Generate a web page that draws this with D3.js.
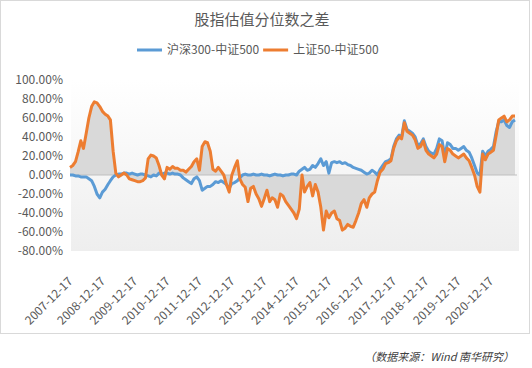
<!DOCTYPE html>
<html>
<head>
<meta charset="utf-8">
<script src="https://cdn.jsdelivr.net/npm/d3@7"></script>
<style>
  body { margin: 0; background: #fff; }
  text { font-family: "Noto Sans CJK SC", "Microsoft YaHei", sans-serif; }
</style>
</head>
<body>
<div id="here"></div>
<script>
var w = 532, h = 368;

var title = "股指估值分位数之差";
var seriesNames = ["沪深300-中证500", "上证50-中证500"];
var seriesColors = ["#5b9bd5", "#ed7d31"];
var firstDate = "2007-12-17";   // monthly observations from here on

// 沪深300-中证500 (%), monthly
var hs300Diff = [
  0, 0, -1, -1, -2, -2, -2, -4, -6, -12, -20, -24,
  -18, -15, -10, -6, -2, 0, 1, 1, 2, 2, 1, 2,
  1, 0, 1, 1, 0, -1, -2, 0, -1, 2, 1, 2,
  2, 1, 2, 1, 1, 0, -3, -5, -7, -9, -4, -2,
  -6, -16, -14, -12, -12, -10, -7, -8, -6, -8, -10, -14,
  -9, -8, -6, -3, 0, 1, 0, 0, 1, 0, 0, 1,
  0, 0, -1, 0, 1, 0, 0, -1, 0, 0, 1, 1,
  0, 4, 6, 8, 5, 6, 10, 8, 12, 17, 10, 14,
  2, 13, 14, 13, 14, 12, 13, 11, 10, 8, 7, 6,
  5, 3, 1, 2, 5, 3, 0, 6, 10, 14, 15, 17,
  30, 38, 42, 40, 57, 48, 46, 44, 40, 31, 33, 38,
  30, 25, 23, 22, 28, 38, 36, 20, 34, 32, 28, 28,
  26, 28, 30, 26, 24, 18, 10, 2, 0, 25, 20, 25,
  27, 30, 46, 56, 56, 58, 52, 50, 56, 58
];

// 上证50-中证500 (%), monthly
var sz50Diff = [
  8, 10, 14, 24, 36, 28, 44, 60, 72, 77, 76, 72,
  67, 64, 62, 58, 25, 2, -2, 0, 2, 0, -4, -5,
  -6, -7, -7, -6, -3, 17, 21, 20, 18, 10, 0, -4,
  8, 6, 9, 7, 7, 5, 5, 3, 6, 9, 14, 17,
  5, 30, 35, 34, 25, 6, 4, 8, 4, 0, -10, -18,
  0, 8, 15, -4, -10, -13, -28, -14, -12, -20, -25, -33,
  -25, -16, -28, -24, -26, -34, -20, -22, -28, -32, -36, -40,
  -46, -36, 0, -18, -12, -8, -22, -10, -18, -34, -58, -38,
  -45, -40, -38, -46, -48, -58, -56, -52, -54, -55, -48, -40,
  -30, -26, -34, -24, -20, -18, -6, 3, 6, 12, 13, 15,
  28, 36, 40, 38, 55, 46, 44, 42, 37, 28, 30, 36,
  26, 22, 20, 18, 22, 32, 30, 14, 28, 26, 22, 20,
  18, 20, 22, 18, 15, 8, 0, -12, -18, 22, 16, 22,
  24, 26, 42, 58, 60, 62, 56, 58, 62, 62
];

var yTicks = [-80, -60, -40, -20, 0, 20, 40, 60, 80, 100];
var xTickLabels = ["2007-12-17", "2008-12-17", "2009-12-17", "2010-12-17", "2011-12-17",
  "2012-12-17", "2013-12-17", "2014-12-17", "2015-12-17", "2016-12-17",
  "2017-12-17", "2018-12-17", "2019-12-17", "2020-12-17"];
var source = "（数据来源：Wind 南华研究）";

var parse = d3.timeParse("%Y-%m-%d");
var start = parse(firstDate);
var dates = hs300Diff.map(function(d, i) { return d3.timeMonth.offset(start, i); });

var plot = {left: 71, right: 519, top: 80, bottom: 251};

var x = d3.scaleTime()
  .domain([start, dates[dates.length - 1]])
  .range([70, 515]);
var y = d3.scaleLinear().domain([-80, 100]).range([plot.bottom, plot.top]);

var fmt = d3.formatLocale({decimal: ".", thousands: ",", grouping: [3], currency: ["", ""], minus: "-"}).format(".2%");

var svg = d3.select("#here").append("svg")
  .attr("width", w)
  .attr("height", h);

svg.append("rect").attr("width", w).attr("height", h).attr("fill", "#fff");
svg.append("rect")
  .attr("x", 0.5).attr("y", 0.5)
  .attr("width", 529).attr("height", 333)
  .attr("fill", "none").attr("stroke", "#d9d9d9");

var grad = svg.append("defs").append("linearGradient")
  .attr("id", "bg").attr("x1", 0).attr("y1", 0).attr("x2", 0).attr("y2", 1);
grad.append("stop").attr("offset", "0%").attr("stop-color", "#ffffff");
grad.append("stop").attr("offset", "100%").attr("stop-color", "#eeeeee");

svg.append("rect")
  .attr("x", plot.left).attr("y", plot.top)
  .attr("width", plot.right - plot.left).attr("height", plot.bottom - plot.top)
  .attr("fill", "url(#bg)");

svg.append("text")
  .attr("x", 262).attr("y", 25)
  .attr("text-anchor", "middle")
  .attr("fill", "#595959")
  .style("font-size", "15px")
  .text(title);

// legend
var lx = 137;
seriesNames.forEach(function(name, i) {
  svg.append("line")
    .attr("x1", lx).attr("x2", lx + 25).attr("y1", 50).attr("y2", 50)
    .attr("stroke", seriesColors[i]).attr("stroke-width", 3);
  var t = svg.append("text")
    .attr("x", lx + 30).attr("y", 54)
    .attr("fill", "#595959")
    .style("font-size", "12px")
    .text(name);
  lx += 30 + t.node().getComputedTextLength() + 4;
});

// grey area under 上证50-中证500
var area = d3.area()
  .x(function(d, i) { return x(dates[i]); })
  .y0(y(0))
  .y1(function(d) { return y(d); });
svg.append("path")
  .attr("d", area(sz50Diff))
  .attr("fill", "#d9d9d9");

svg.append("line")
  .attr("x1", plot.left - 1).attr("x2", plot.right - 2)
  .attr("y1", y(0)).attr("y2", y(0))
  .attr("stroke", "#bfbfbf").attr("stroke-width", 1);

var line = d3.line()
  .x(function(d, i) { return x(dates[i]); })
  .y(function(d) { return y(d); });

[hs300Diff, sz50Diff].forEach(function(s, i) {
  svg.append("path")
    .attr("d", line(s))
    .attr("fill", "none")
    .attr("stroke", seriesColors[i])
    .attr("stroke-width", 3)
    .attr("stroke-linejoin", "round");
});

// y axis
var yAxis = svg.append("g")
  .attr("transform", "translate(63,0)")
  .call(d3.axisLeft(y).tickValues(yTicks).tickSize(0).tickPadding(0)
    .tickFormat(function(d) { return fmt(d / 100); }));
yAxis.select(".domain").remove();
yAxis.selectAll("text")
  .attr("fill", "#595959")
  .style("font-size", "12px")
  .style("font-family", "'Noto Sans CJK SC', sans-serif");

// x axis
var xAxis = svg.append("g")
  .attr("transform", "translate(0," + plot.bottom + ")")
  .call(d3.axisBottom(x).tickValues(xTickLabels.map(parse)).tickSize(0)
    .tickFormat(function(d, i) { return xTickLabels[i]; }));
xAxis.select(".domain").remove();
xAxis.selectAll("text")
  .attr("x", 0).attr("y", 0).attr("dy", 0)
  .attr("transform", "translate(3,31) rotate(-45)")
  .style("text-anchor", "end")
  .attr("fill", "#595959")
  .style("font-size", "12px")
  .style("font-family", "'Noto Sans CJK SC', sans-serif");

svg.append("text")
  .attr("x", 514).attr("y", 361)
  .attr("text-anchor", "end")
  .attr("fill", "#404040")
  .style("font-size", "11px")
  .style("font-style", "italic")
  .text(source);
</script>
</body>
</html>
